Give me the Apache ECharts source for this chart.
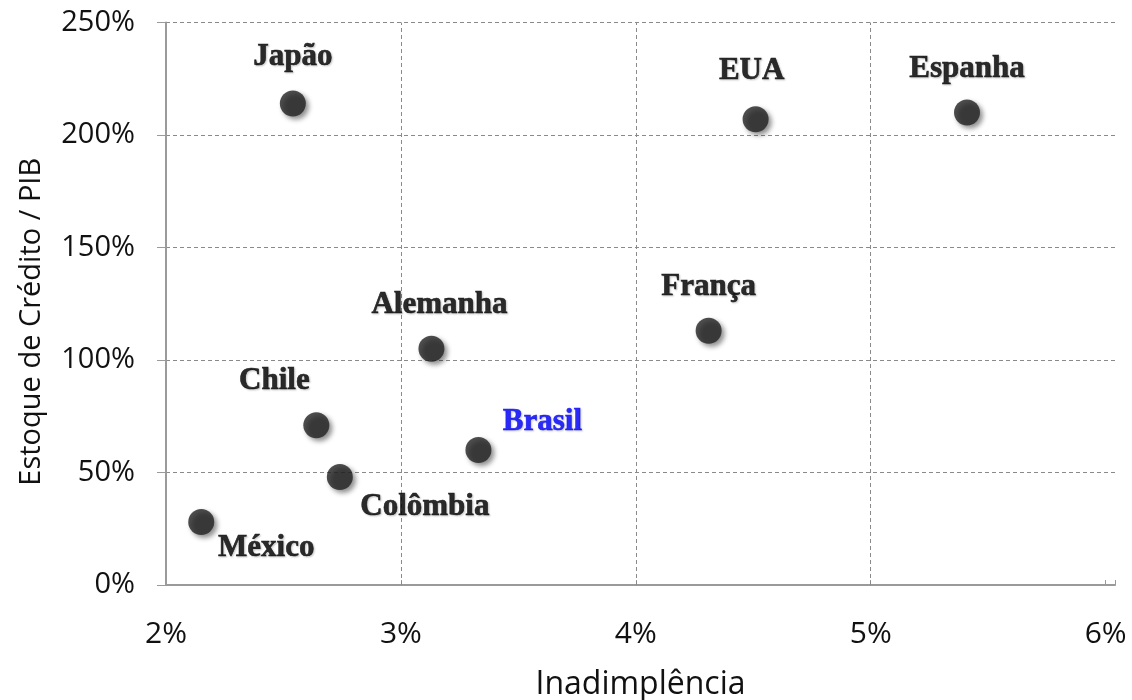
<!DOCTYPE html>
<html>
<head>
<meta charset="utf-8">
<script src="https://cdn.jsdelivr.net/npm/echarts@6/dist/echarts.min.js"></script>
<style>
  html, body { margin: 0; padding: 0; background: #ffffff; }
  #chart { width: 1132px; height: 700px; }
</style>
</head>
<body>
<div id="chart"></div>
<script>
// Países, inadimplência (%) e estoque de crédito / PIB (%)
const countries     = ['Japão', 'EUA', 'Espanha', 'França', 'Alemanha', 'Chile', 'Brasil', 'Colômbia', 'México'];
const inadimplencia = [2.54, 4.51, 5.41, 4.31, 3.13, 2.64, 3.33, 2.74, 2.15];
const creditoPib    = [214, 207, 210, 113, 105, 71, 60, 48, 28];

// Vertical reference lines of the x axis (inner ticks only)
const xGridValues = [3, 4, 5];

// Label placement around each marker [dx, dy] in pixels
const labelOffsets = [[0, -47], [-4, -48], [0, -44], [0, -44], [8, -44], [-42, -44], [64, -28], [85, 30], [65, 26]];
const highlight = 'Brasil';

const chart = echarts.init(document.getElementById('chart'), null, { renderer: 'canvas' });

const points = countries.map((name, i) => {
  const c = name === highlight ? '#0000ff' : '#000000';
  return {
    name: name,
    value: [inadimplencia[i], creditoPib[i]],
    label: { offset: labelOffsets[i], color: c, textBorderColor: c }
  };
});

const gridDash = { color: '#8a8a8a', type: [4, 3], width: 1 };

const option = {
  animation: false,
  backgroundColor: '#ffffff',
  grid: {
    left: 166, right: 17, top: 22.5, bottom: 115,
    containLabel: false,
    outerBoundsMode: 'none'
  },
  xAxis: {
    type: 'value',
    min: 2,
    max: 6.04,
    interval: 1,
    name: 'Inadimplência',
    nameLocation: 'middle',
    nameGap: 84,
    nameTextStyle: { fontFamily: 'Open Sans', fontSize: 32, color: '#111111' },
    axisLine: { show: true, onZero: false, lineStyle: { color: '#9a9a9a', width: 2 } },
    axisTick: { show: true, inside: true, length: 5, lineStyle: { color: '#9a9a9a', width: 1 } },
    axisLabel: {
      margin: 34,
      fontFamily: 'Open Sans',
      fontSize: 30,
      color: '#111111',
      formatter: v => (Math.abs(v - Math.round(v)) < 1e-9 ? Math.round(v) + '%' : '')
    },
    splitLine: { show: false }
  },
  yAxis: {
    type: 'value',
    min: 0,
    max: 250,
    interval: 50,
    name: 'Estoque de Crédito / PIB',
    nameLocation: 'middle',
    nameGap: 120,
    nameTextStyle: { fontFamily: 'Open Sans', fontSize: 29, color: '#111111', padding: [0, 36, 0, 0] },
    axisLine: { show: true, lineStyle: { color: '#9a9a9a', width: 2 } },
    axisTick: { show: true, inside: false, length: 9, lineStyle: { color: '#9a9a9a', width: 1 } },
    axisLabel: {
      margin: 31,
      fontFamily: 'Open Sans',
      fontSize: 29,
      color: '#111111',
      formatter: '{value}%'
    },
    splitLine: {
      show: true,
      showMinLine: false,
      showMaxLine: true,
      lineStyle: gridDash
    }
  },
  series: [{
    type: 'scatter',
    symbol: 'circle',
    symbolSize: 26,
    z: 3,
    itemStyle: {
      color: '#222222',
      shadowColor: 'rgba(0,0,0,0.55)',
      shadowBlur: 5,
      shadowOffsetX: 3,
      shadowOffsetY: 3
    },
    label: {
      show: true,
      position: 'inside',
      formatter: '{b}',
      align: 'center',
      verticalAlign: 'middle',
      fontFamily: 'Liberation Serif',
      fontWeight: 'bold',
      fontSize: 31,
      color: '#000000',
      textBorderWidth: 0.6,
      textShadowColor: 'rgba(0,0,0,0.25)',
      textShadowBlur: 2,
      textShadowOffsetX: 1,
      textShadowOffsetY: 1
    },
    emphasis: { disabled: true },
    markLine: {
      silent: true,
      symbol: 'none',
      z: 1,
      label: { show: false },
      lineStyle: gridDash,
      data: xGridValues.map(v => ({ xAxis: v }))
    },
    data: points
  }]
};

chart.setOption(option);
</script>
</body>
</html>
